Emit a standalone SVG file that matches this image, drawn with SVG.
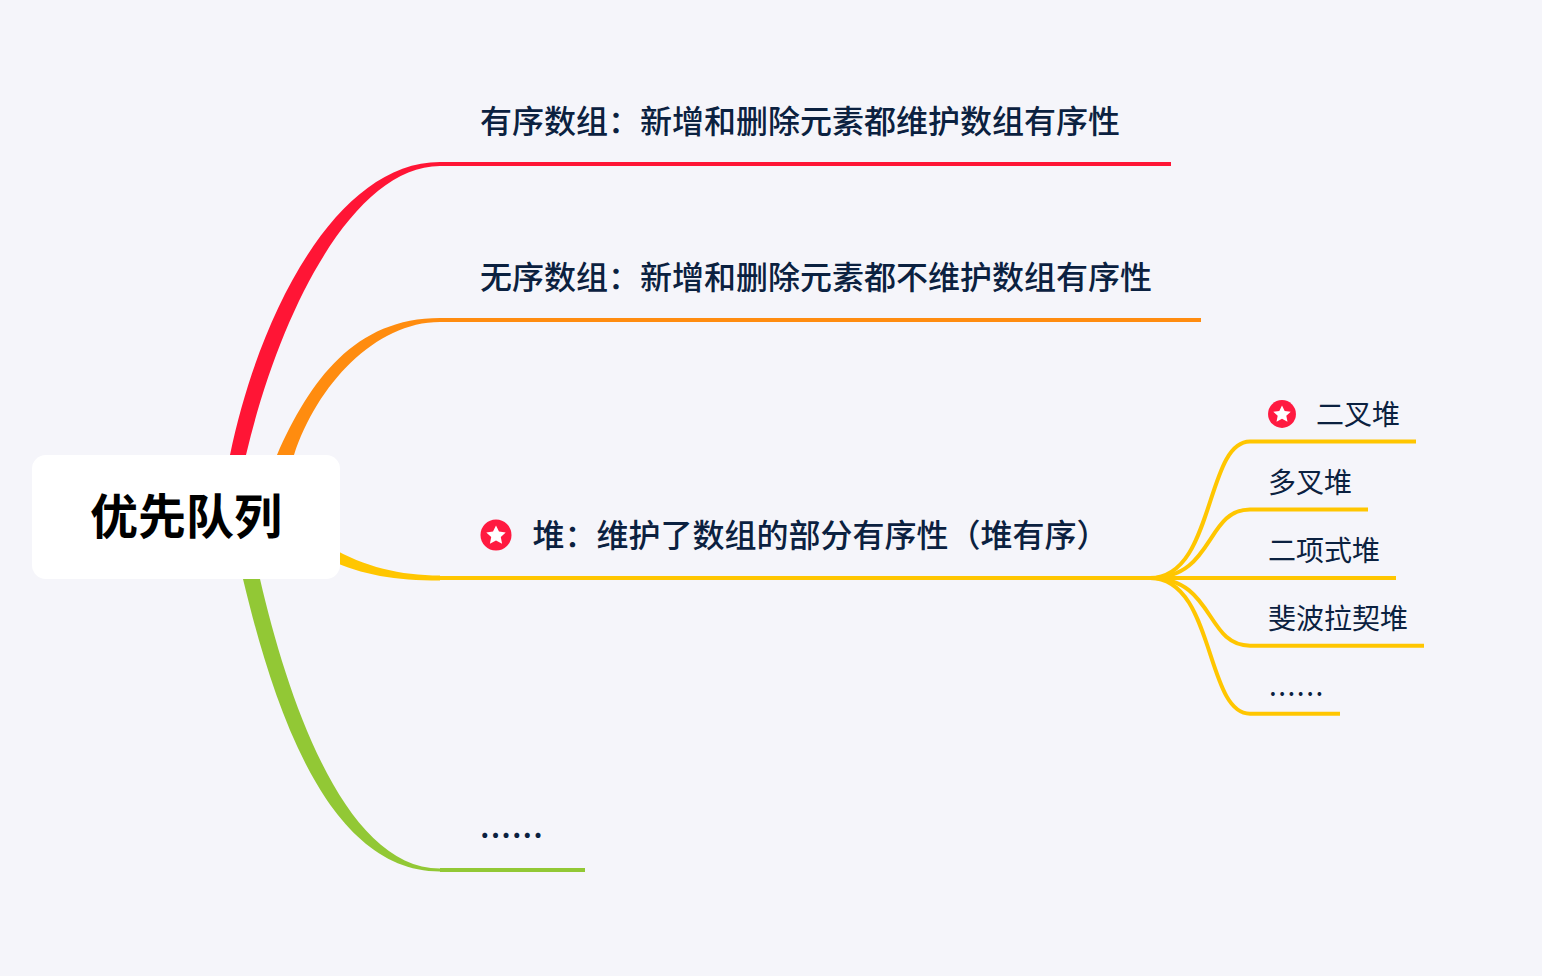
<svg xmlns="http://www.w3.org/2000/svg" width="1542" height="976" viewBox="0 0 1542 976">
<style>
text{font-family:"Noto Sans CJK SC","Noto Sans",sans-serif;fill:#0b2140}
.l1{font-size:32px;font-weight:500}
.l2{font-size:28px;font-weight:400}
.root{font-size:48px;font-weight:700;fill:#000;text-anchor:middle}
.line{fill:none;stroke-width:4}
.sub{fill:none;stroke:#ffc600;stroke-width:4}
.star{fill:#fff}
.badge{fill:#ff1a40}
</style>
<defs>
<g id="starbadge"><circle class="badge" r="15.5"/><polygon class="star" points="0,-9.5 3,-3.4 9.7,-2.6 4.8,2 6.1,8.7 0,5.4 -6.1,8.7 -4.8,2 -9.7,-2.6 -3,-3.4"/></g>
</defs>
<rect width="1542" height="976" fill="#f5f5fa"/>
<g id="connectors">
<path fill="#ff1535" d="M227 466L230 455C260 310 338 162 440 162V166C354 166 280 310 246 455L243 466Z"/>
<path class="line" stroke="#ff1535" d="M440 164H1171"/>
<path fill="#ff8c0f" d="M272 466L277 455C310 380 355 318 440 318V322C375 322 317 385 294 455L289 466Z"/>
<path class="line" stroke="#ff8c0f" d="M440 320H1201"/>
<path fill="#ffc600" d="M330 547C365 567 400 575.5 440 575.5V580.5C395 580.5 362 575 330 560Z"/>
<path class="line" stroke="#ffc600" d="M440 578H1150"/>
<path fill="#92c835" d="M241 571L243 579C272 700 325 871.5 440 871.5V868.5C345 868.5 288 700 260 579L258 571Z"/>
<path class="line" stroke="#92c835" d="M440 870H585"/>
<path class="sub" d="M1150 578C1215 578 1205 441.5 1250 441.5H1416"/>
<path class="sub" d="M1150 578C1215 578 1205 509.5 1250 509.5H1368"/>
<path class="sub" d="M1150 578H1396"/>
<path class="sub" d="M1150 578C1215 578 1205 645.7 1250 645.7H1424"/>
<path class="sub" d="M1150 578C1215 578 1205 713.7 1250 713.7H1340"/>
</g>
<g id="root"><rect x="32" y="455" width="308" height="124" rx="14" fill="#fff"/><text class="root" x="186" y="534">优先队列</text></g>
<g id="n1"><text class="l1" x="480" y="133">有序数组：新增和删除元素都维护数组有序性</text></g>
<g id="n2"><text class="l1" x="480" y="289">无序数组：新增和删除元素都不维护数组有序性</text></g>
<g id="n3"><use href="#starbadge" x="496" y="535"/><text class="l1" x="532.5" y="547">堆：维护了数组的部分有序性（堆有序）</text></g>
<g id="n4"><text class="l1" x="480" y="838" letter-spacing="1.1">......</text></g>
<g id="s1"><use href="#starbadge" transform="translate(1282 414) scale(.9)"/><text class="l2" x="1316" y="425">二叉堆</text></g>
<g id="s2"><text class="l2" x="1268" y="493">多叉堆</text></g>
<g id="s3"><text class="l2" x="1268" y="561">二项式堆</text></g>
<g id="s4"><text class="l2" x="1268" y="629">斐波拉契堆</text></g>
<g id="s5"><text class="l2" x="1269" y="696" letter-spacing="1.5">......</text></g>
</svg>
